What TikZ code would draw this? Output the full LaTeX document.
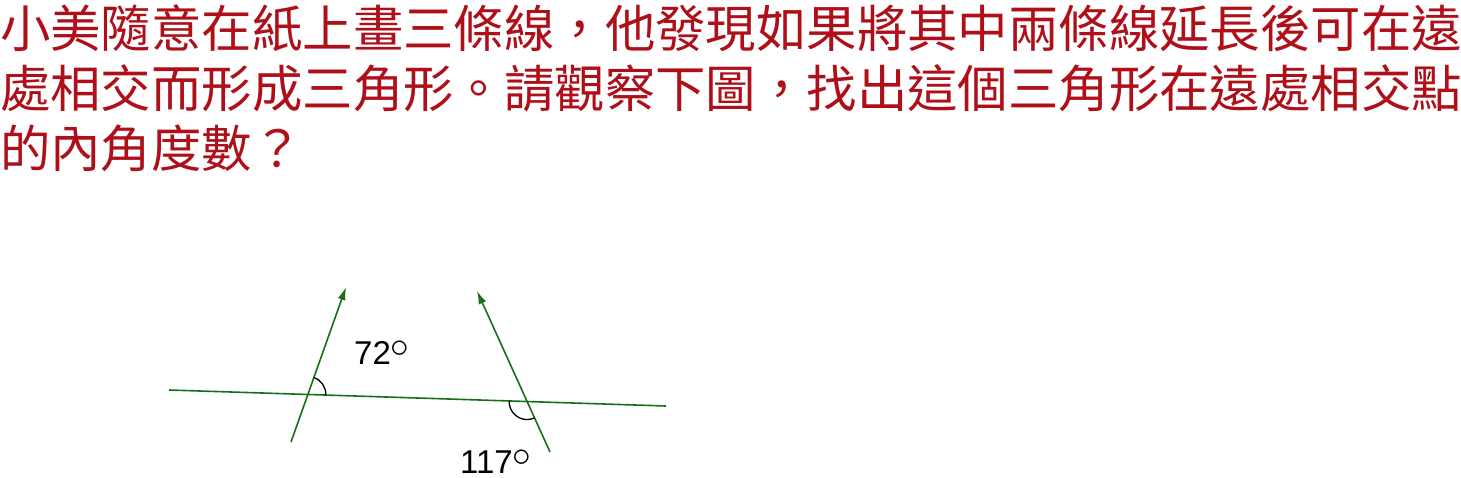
\documentclass[tikz,border=0pt]{standalone}
\usepackage{fontspec}
\newfontfamily\cjk{Noto Sans CJK TC}
\newfontfamily\numfont{Liberation Sans}
\usetikzlibrary{angles,calc,arrows.meta}
\definecolor{qred}{RGB}{175,15,25}
\definecolor{lgreen}{RGB}{25,110,25}
\newcommand{\dg}{\raisebox{7pt}{\scalebox{1.5}{$\circ$}}}
\tikzset{
  qline/.style={anchor=base west,inner sep=0pt,text=qred,font=\cjk\fontsize{50.4}{60}\selectfont},
  gline/.style={draw=lgreen,line width=1.6pt},
  garrow/.style={gline,-{Latex[length=13pt,width=8pt]}},
  anglearc/.style={draw=black,line width=1.3pt,angle radius=18pt},
  deg/.style={inner sep=0pt,font=\numfont\fontsize{33}{36}\selectfont}
}
\begin{document}
\begin{tikzpicture}[x=1pt,y=-1pt]
\useasboundingbox (0,0) rectangle (1461,477);
\node[qline] (t1) at (0,47) {小美隨意在紙上畫三條線，他發現如果將其中兩條線延長後可在遠};
\node[qline] (t2) at (0,107) {處相交而形成三角形。請觀察下圖，找出這個三角形在遠處相交點};
\node[qline] (t3) at (0,167) {的內角度數？};
\coordinate (H1) at (169,390);
\coordinate (H2) at (666,406);
\coordinate (L1b) at (291,442);
\coordinate (L1t) at (346,287);
\coordinate (R1b) at (550,452);
\coordinate (R1t) at (477,291);
\coordinate (P) at (intersection of H1--H2 and L1b--L1t);
\coordinate (Q) at (intersection of H1--H2 and R1b--R1t);
\draw[gline] (H1) -- (H2);
\draw[garrow] (L1b) -- (L1t);
\draw[garrow] (R1b) -- (R1t);
\pic[anglearc] {angle = H2--P--L1t};
\pic[anglearc] {angle = H1--Q--R1b};
\node[deg,anchor=base west] (a72) at (354,364) {72\dg};
\node[deg,anchor=base west] (a117) at (460,473) {117\dg};
\end{tikzpicture}
\end{document}
